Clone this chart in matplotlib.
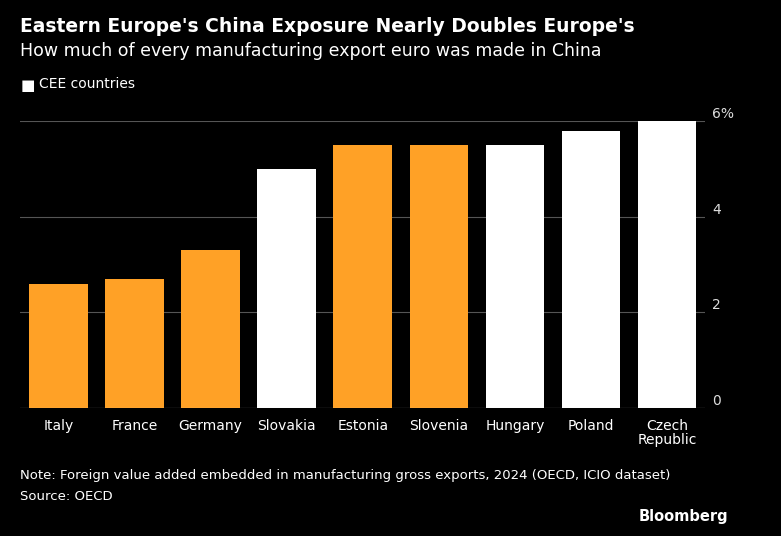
import matplotlib.pyplot as plt

countries = ["Italy", "France", "Germany", "Slovakia", "Estonia", "Slovenia",
             "Hungary", "Poland", "Czech\nRepublic"]
shares = [2.6, 2.7, 3.3, 5.0, 5.5, 5.5, 5.5, 5.8, 6.0]
is_cee = [False, False, False, True, False, False, True, True, True]
yticks = [0, 2, 4, 6]
ytick_labels = ["0", "2", "4", "6%"]

orange = "#ffa126"
colors = ["white" if c else orange for c in is_cee]

fig = plt.figure(figsize=(7.81, 5.36), dpi=100, facecolor="black")
ax = fig.add_axes([0.026, 0.239, 0.877, 0.535], facecolor="black")

x = range(len(countries))
ax.bar(x, shares, width=0.77, color=colors, zorder=3)
ax.set_xlim(-0.5, len(countries) - 0.5)
ax.set_ylim(0, 6)

for t, lab in zip(yticks, ytick_labels):
    ax.axhline(t, color="#555555" if t else "#dddddd", lw=0.8, zorder=4 if t == 0 else 1)
    ax.text(1.01, t, lab, transform=ax.get_yaxis_transform(), color="#dddddd",
            fontsize=10, va="bottom", ha="left")

ax.set_yticks([])
ax.set_xticks(list(x))
ax.set_xticklabels(countries, color="white", fontsize=10, linespacing=1.0)
ax.tick_params(axis="x", length=0, pad=8)
for s in ax.spines.values():
    s.set_visible(False)

fig.text(0.026, 0.94, "Eastern Europe's China Exposure Nearly Doubles Europe's",
         color="white", fontsize=13.5, fontweight="heavy")
fig.text(0.026, 0.895, "How much of every manufacturing export euro was made in China",
         color="white", fontsize=12.5)
fig.text(0.026, 0.833, "■", color="white", fontsize=11)
fig.text(0.05, 0.835, "CEE countries", color="white", fontsize=10)
fig.text(0.026, 0.107,
         "Note: Foreign value added embedded in manufacturing gross exports, 2024 (OECD, ICIO dataset)",
         color="white", fontsize=9.5)
fig.text(0.026, 0.068, "Source: OECD", color="white", fontsize=9.5)
fig.text(0.932, 0.028, "Bloomberg", color="white", fontsize=10.5,
         fontweight="bold", ha="right")

fig.savefig("out.png", dpi=100, facecolor="black")
